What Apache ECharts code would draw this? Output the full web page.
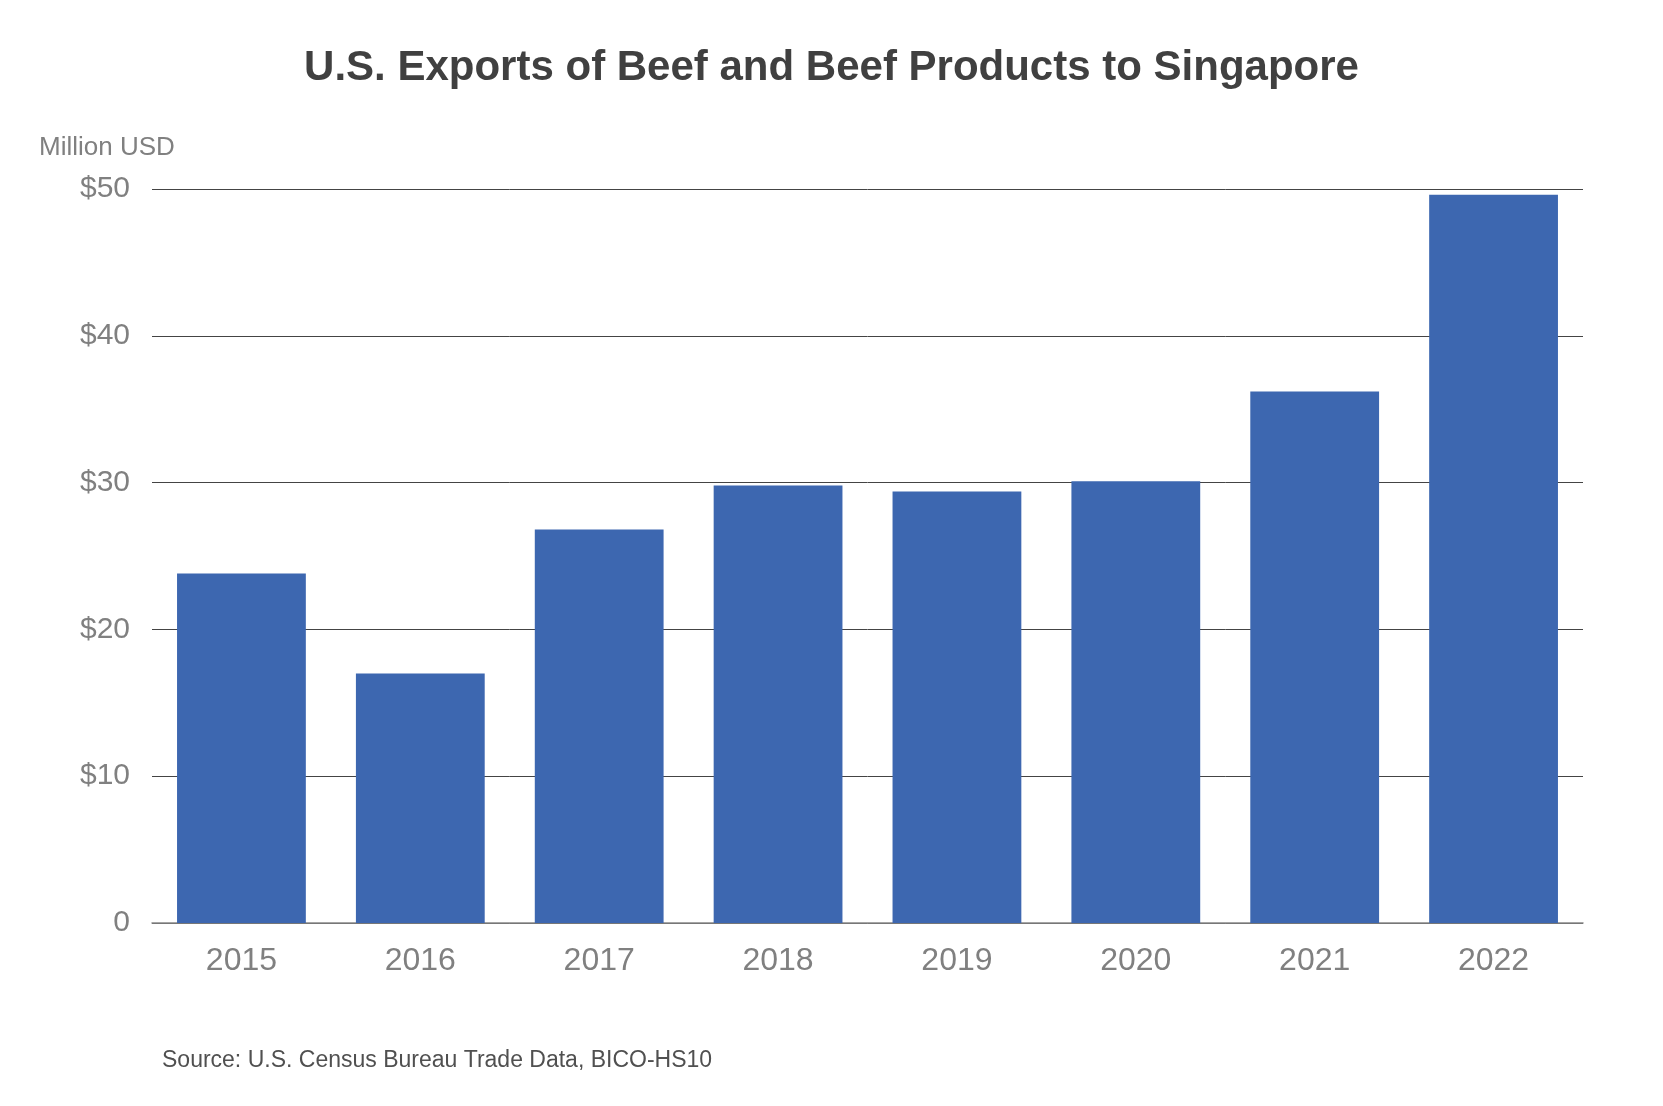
<!DOCTYPE html><html><head><meta charset="utf-8"><script src="https://cdn.jsdelivr.net/npm/echarts@6/dist/echarts.min.js"></script>
<style>html,body{margin:0;background:#fff}#c{width:1663px;height:1106px}</style></head><body><div id="c"></div><script>
const years=['2015','2016','2017','2018','2019','2020','2021','2022'];
const values=[23.8,17.0,26.8,29.8,29.4,30.1,36.2,49.6];
const ff='Liberation Sans, Arial, sans-serif';
const chart=echarts.init(document.getElementById('c'));
chart.setOption({
 animation:false,
 title:[{text:'U.S. Exports of Beef and Beef Products to Singapore',left:'center',top:42,textStyle:{fontFamily:ff,fontSize:42,fontWeight:'bold',color:'#404040'}},
  {text:'Source: U.S. Census Bureau Trade Data, BICO-HS10',left:157,top:1044,textStyle:{fontFamily:ff,fontSize:23,fontWeight:'normal',color:'#505050'}},
  {text:'Million USD',left:34,top:130,textStyle:{fontFamily:ff,fontSize:26,fontWeight:'normal',color:'#808080'}}],
 grid:{left:152,right:80,top:189,bottom:183},
 xAxis:{type:'category',data:years,axisTick:{show:false},axisLine:{lineStyle:{color:'#888',width:1.5}},
  axisLabel:{fontFamily:ff,fontSize:32,color:'#808080',margin:22}},
 yAxis:{type:'value',min:0,max:50,interval:10,
  axisLabel:{fontFamily:ff,fontSize:30,color:'#808080',margin:22,formatter:v=>v===0?'0':'$'+v},
  splitLine:{lineStyle:{color:'#444',width:1}}},
 series:[{type:'bar',data:values,barWidth:'72%',itemStyle:{color:'#3d67b0'}}]
});
</script></body></html>
